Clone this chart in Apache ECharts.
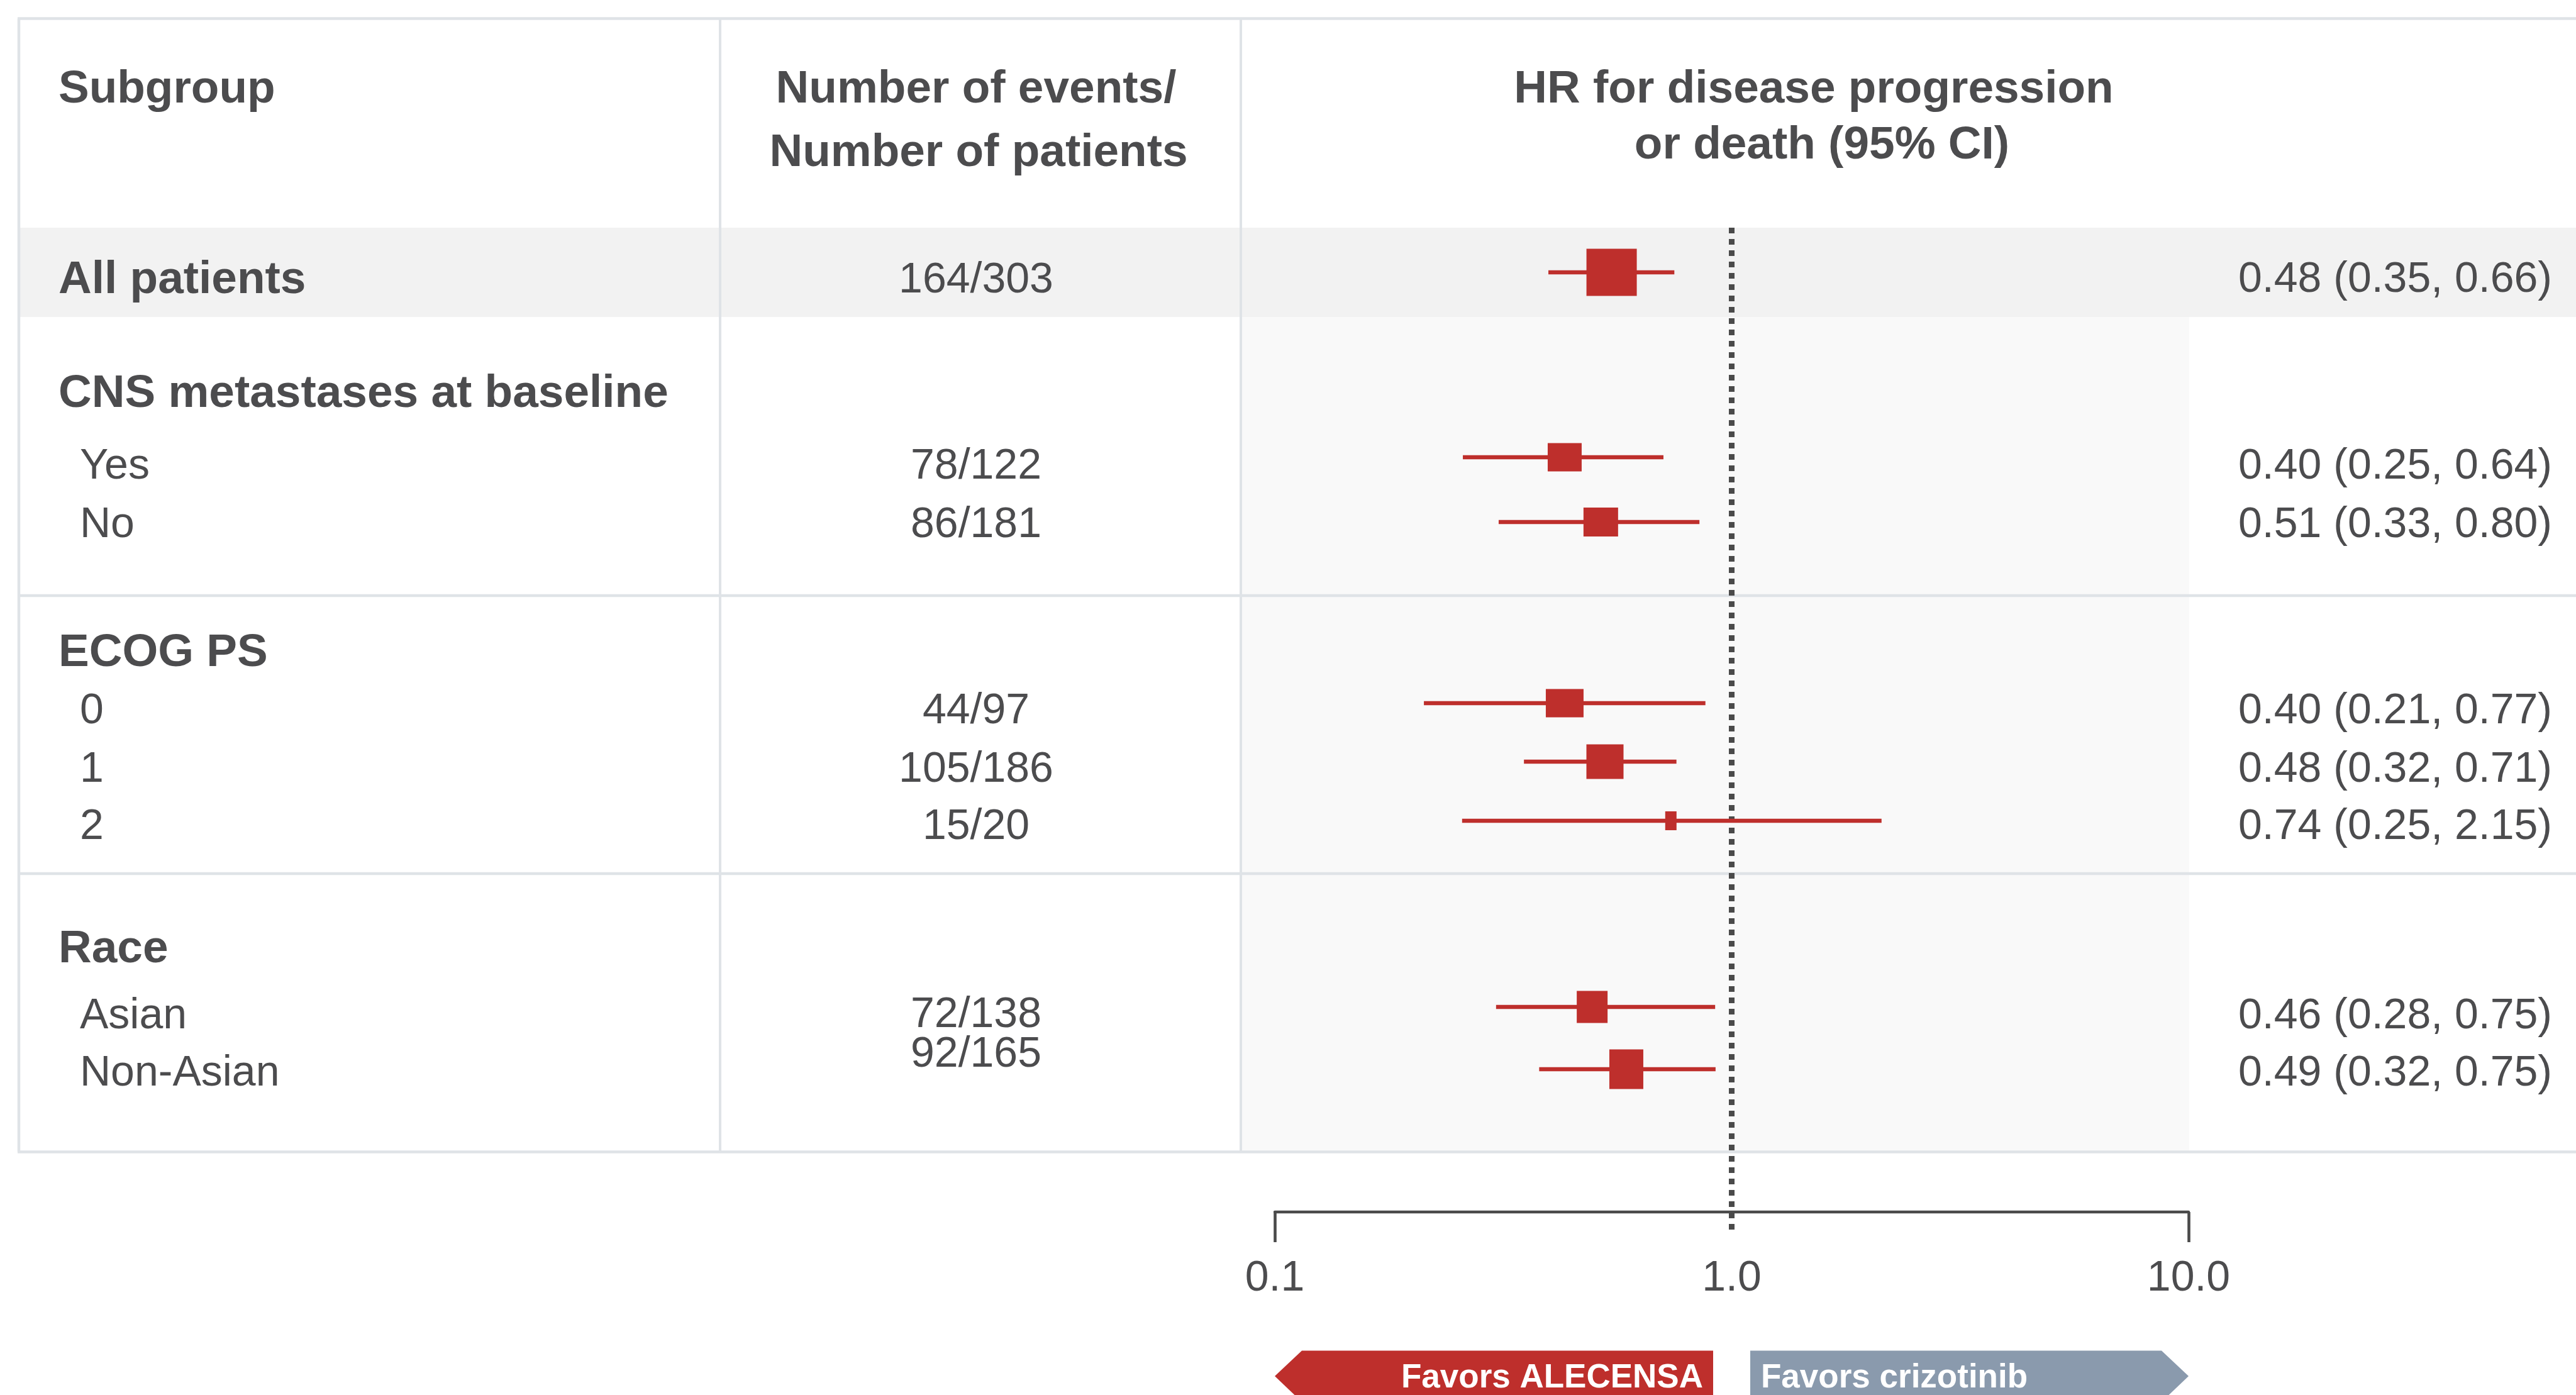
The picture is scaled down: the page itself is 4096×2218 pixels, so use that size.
<!DOCTYPE html>
<html>
<head>
<meta charset="utf-8">
<script src="https://cdn.jsdelivr.net/npm/echarts@6.0.0/dist/echarts.min.js"></script>
<style>
html,body{margin:0;padding:0;background:#ffffff;}
#chart{width:4096px;height:2218px;}
</style>
</head>
<body>
<div id="chart"></div>
<script>
// ================= DATA =================
const rowLabels = ['All patients', 'CNS metastases at baseline', 'Yes', 'No', 'ECOG PS', '0', '1', '2', 'Race', 'Asian', 'Non-Asian'];
const rowKinds = ['total', 'group', 'item', 'item', 'group', 'item', 'item', 'item', 'group', 'item', 'item'];
const eventCounts = ['164/303', '', '78/122', '86/181', '', '44/97', '105/186', '15/20', '', '72/138', '92/165'];
const ciLabels = ['0.48 (0.35, 0.66)', '', '0.40 (0.25, 0.64)', '0.51 (0.33, 0.80)', '', '0.40 (0.21, 0.77)', '0.48 (0.32, 0.71)', '0.74 (0.25, 2.15)', '', '0.46 (0.28, 0.75)', '0.49 (0.32, 0.75)'];
// hazard-ratio marks, as read from where they are drawn in the picture
const hrPoint = [0.546, null, 0.431, 0.517, null, 0.431, 0.528, 0.736, null, 0.495, 0.588];
const hrLow   = [0.397, null, 0.258, 0.309, null, 0.212, 0.351, 0.257, null, 0.305, 0.379];
const hrHigh  = [0.749, null, 0.709, 0.850, null, 0.876, 0.757, 2.128, null, 0.920, 0.922];
const referenceHR = 1;
const axisTickValues = [0.1, 10];
const axisLabelValues = [0.1, 1, 10];
const axisLabelTexts = ['0.1', '1.0', '10.0'];
const headerSubgroup = 'Subgroup';
const headerEvents = ['Number of events/', 'Number of patients'];
const headerHR = ['HR for disease progression', 'or death (95% CI)'];
const favorLabels = ['Favors ALECENSA', 'Favors crizotinib'];

// ================= LAYOUT / STYLE =================
const L = {
  W: 4096, H: 2218,
  axisLeft: 2027, axisRight: 3480, axisY: 1927,
  tableLeft: 30, tableTop: 29.5, tableBottom: 1831.5,
  col1: 1145, col2: 1973, plotBgRight: 3481,
  bandTop: 362, bandBottom: 504,
  sepY: [947, 1389],
  labelX: 93, itemX: 127, countX: 1552, ciX: 4058,
  textY:  [440, 621, 737, 830, 1033, 1126, 1219, 1310, 1504, 1611, 1702],
  countY: [441, null, 737, 830, null, 1126, 1219, 1310, null, 1609, 1672.5],
  markY:  [433, null, 727, 830, null, 1118, 1211, 1305, null, 1601, 1700],
  markSize: [[80, 75], null, [54, 45], [55, 46], null, [60, 45], [59, 55], [18, 30], null, [49, 51], [54, 63]],
  refTop: 362, refBottom: 1964,
  hdrY1: 137, evY2: 238, hrY2: 226, evX: [1552, 1556], hrX: [2884, 2897],
  arrowTop: 2147.5, arrowMid: 2188, arrowBottom: 2229, arrowInset: 43,
  redRight: 2724, blueLeft: 2783, favorTextY: 2187, favorRedTextRight: 2708, favorBlueTextLeft: 2800
};
const C = {
  text: '#4c4c4e', rule: '#dfe3e7', band: '#f2f2f2', plotBg: '#f9f9f9',
  red: '#be2f2c', blue: '#8a9aad', axis: '#4a4a4a', white: '#ffffff'
};
const FONT = "'Liberation Sans', Arial, Helvetica, sans-serif";
const FS = { bold: 73, reg: 68, favor: 53 };

function txt(text, x, capY, size, weight, align, fill) {
  return {
    type: 'text', x: x, y: capY + size * 0.075, silent: true, z: 5,
    style: {
      text: text, fontSize: size, fontWeight: weight, fontFamily: FONT,
      fill: fill || C.text, align: align, textAlign: align,
      verticalAlign: 'middle', textVerticalAlign: 'middle'
    }
  };
}
function hline(y, x1, x2, w) {
  return { type: 'line', silent: true, z: 1, shape: { x1: x1, y1: y, x2: x2, y2: y }, style: { stroke: C.rule, lineWidth: w } };
}
function vline(x, y1, y2, w) {
  return { type: 'line', silent: true, z: 1, shape: { x1: x, y1: y1, x2: x, y2: y2 }, style: { stroke: C.rule, lineWidth: w } };
}

const graphics = [];
// backgrounds
graphics.push({ type: 'rect', silent: true, z: 0, shape: { x: L.tableLeft, y: L.bandTop, width: L.W - L.tableLeft, height: L.bandBottom - L.bandTop }, style: { fill: C.band } });
graphics.push({ type: 'rect', silent: true, z: 0, shape: { x: L.col2, y: L.bandBottom, width: L.plotBgRight - L.col2, height: L.tableBottom - L.bandBottom }, style: { fill: C.plotBg } });
// rules
graphics.push(hline(L.tableTop, L.tableLeft - 2, L.W, 4.5));
graphics.push(vline(L.tableLeft, L.tableTop, L.tableBottom, 4.5));
graphics.push(vline(L.col1, L.tableTop, L.tableBottom, 4));
graphics.push(vline(L.col2, L.tableTop, L.tableBottom, 4));
L.sepY.forEach(y => graphics.push(hline(y, L.tableLeft, L.W, 4.3)));
graphics.push(hline(L.tableBottom, L.tableLeft - 2, L.W, 4.3));
// headers
graphics.push(txt(headerSubgroup, L.labelX, L.hdrY1, FS.bold, 'bold', 'left'));
graphics.push(txt(headerEvents[0], L.evX[0], L.hdrY1, FS.bold, 'bold', 'center'));
graphics.push(txt(headerEvents[1], L.evX[1], L.evY2, FS.bold, 'bold', 'center'));
graphics.push(txt(headerHR[0], L.hrX[0], L.hdrY1, FS.bold, 'bold', 'center'));
graphics.push(txt(headerHR[1], L.hrX[1], L.hrY2, FS.bold, 'bold', 'center'));
// rows
rowLabels.forEach((lab, i) => {
  const bold = rowKinds[i] !== 'item';
  graphics.push(txt(lab, bold ? L.labelX : L.itemX, L.textY[i], bold ? FS.bold : FS.reg, bold ? 'bold' : 'normal', 'left'));
  if (eventCounts[i]) graphics.push(txt(eventCounts[i], L.countX, L.countY[i], FS.reg, 'normal', 'center'));
  if (ciLabels[i]) graphics.push(txt(ciLabels[i], L.ciX, L.textY[i], FS.reg, 'normal', 'right'));
});
// favour arrows
graphics.push({ type: 'polygon', silent: true, z: 2, shape: { points: [
  [L.axisLeft + L.arrowInset, L.arrowTop], [L.redRight, L.arrowTop], [L.redRight, L.arrowBottom],
  [L.axisLeft + L.arrowInset, L.arrowBottom], [L.axisLeft, L.arrowMid]] }, style: { fill: C.red } });
graphics.push({ type: 'polygon', silent: true, z: 2, shape: { points: [
  [L.blueLeft, L.arrowTop], [L.axisRight - L.arrowInset, L.arrowTop], [L.axisRight, L.arrowMid],
  [L.axisRight - L.arrowInset, L.arrowBottom], [L.blueLeft, L.arrowBottom]] }, style: { fill: C.blue } });
graphics.push(txt(favorLabels[0], L.favorRedTextRight, L.favorTextY, FS.favor, 'bold', 'right', C.white));
graphics.push(txt(favorLabels[1], L.favorBlueTextLeft, L.favorTextY, FS.favor, 'bold', 'left', C.white));

// forest data
const forestData = [];
hrPoint.forEach((v, i) => {
  if (v != null) forestData.push([hrLow[i], hrHigh[i], v, L.markY[i], i]);
});

const chart = echarts.init(document.getElementById('chart'), null, { renderer: 'canvas' });
const option = {
  animation: false,
  backgroundColor: '#ffffff',
  textStyle: { fontFamily: FONT },
  graphic: { elements: graphics },
  grid: [
    { left: L.axisLeft, top: 0, width: L.axisRight - L.axisLeft, height: L.H, containLabel: false },
    { left: L.axisLeft, top: 1500, width: L.axisRight - L.axisLeft, height: L.axisY - 1500, containLabel: false }
  ],
  xAxis: [
    { gridIndex: 0, type: 'log', logBase: 10, min: 0.1, max: 10, show: false },
    {
      gridIndex: 1, type: 'log', logBase: 10, min: 0.1, max: 10, position: 'bottom',
      axisLine: { show: true, lineStyle: { color: C.axis, width: 4.3 } },
      axisTick: { show: true, inside: false, length: 48, customValues: axisTickValues, lineStyle: { color: C.axis, width: 4.6 } },
      axisLabel: {
        show: true, customValues: axisLabelValues, margin: 72, fontSize: FS.reg, color: C.text, fontFamily: FONT,
        formatter: function (v) {
          let best = 0, bd = Infinity;
          axisLabelValues.forEach((a, k) => { const d = Math.abs(Math.log10(a) - Math.log10(v)); if (d < bd) { bd = d; best = k; } });
          return axisLabelTexts[best];
        }
      },
      splitLine: { show: false }, minorTick: { show: false }
    }
  ],
  yAxis: [
    { gridIndex: 0, type: 'value', min: 0, max: L.H, inverse: true, show: false },
    { gridIndex: 1, type: 'value', min: 0, max: 1, show: false }
  ],
  series: [
    {
      type: 'line', xAxisIndex: 0, yAxisIndex: 0, silent: true, z: 3,
      data: [[referenceHR, L.refTop], [referenceHR, L.refBottom]],
      symbol: 'none', clip: false,
      lineStyle: { color: C.axis, width: 9, type: [9, 9] }
    },
    {
      type: 'custom', xAxisIndex: 0, yAxisIndex: 0, silent: true, z: 4, clip: false,
      encode: { x: [0, 1, 2], y: 3 },
      data: forestData,
      renderItem: function (params, api) {
        const idx = api.value(4);
        const y = api.value(3);
        const p0 = api.coord([api.value(0), y]);
        const p1 = api.coord([api.value(1), y]);
        const pc = api.coord([api.value(2), y]);
        const sz = L.markSize[idx];
        return {
          type: 'group', children: [
            { type: 'line', shape: { x1: p0[0], y1: p0[1], x2: p1[0], y2: p1[1] }, style: { stroke: C.red, lineWidth: 6.7 } },
            { type: 'rect', shape: { x: pc[0] - sz[0] / 2, y: pc[1] - sz[1] / 2, width: sz[0], height: sz[1] }, style: { fill: C.red } }
          ]
        };
      }
    }
  ]
};
chart.setOption(option);
</script>
</body>
</html>
